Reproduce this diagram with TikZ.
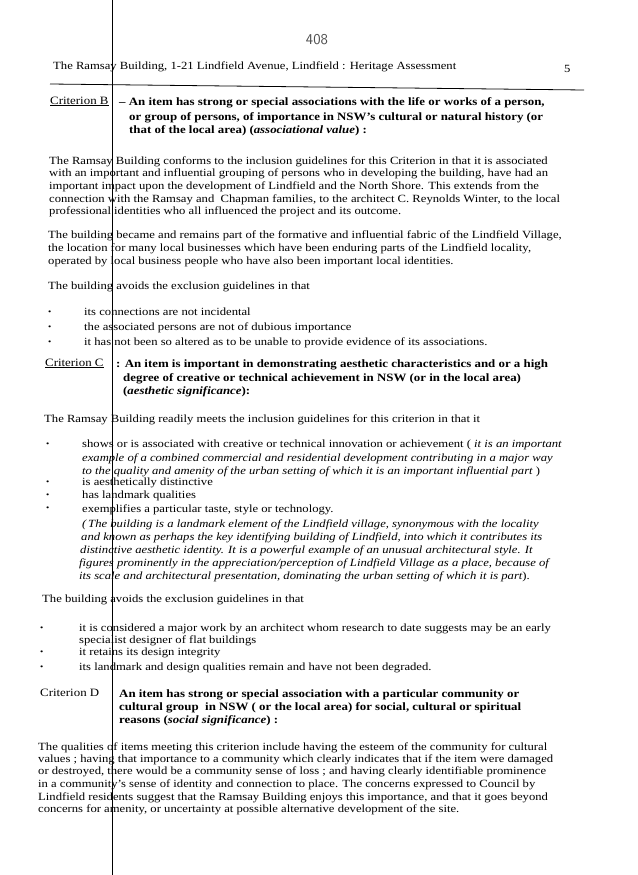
\documentclass[tikz,border=0pt]{standalone}
\usepackage{fontspec}
\setmainfont[FakeStretch=1.15]{Liberation Serif}
\begin{document}
\begin{tikzpicture}[x=1pt,y=-1pt,
  t/.style={anchor=base west,inner sep=0pt,font=\fontsize{11}{13}\selectfont},
  ti/.style={t,font=\fontsize{11}{13}\selectfont\itshape},
  h/.style={anchor=base west,inner sep=0pt,font=\fontsize{11.2}{13}\selectfont\bfseries},
  bu/.style={anchor=base west,inner sep=0pt,font=\fontsize{8}{10}\selectfont}]
\useasboundingbox (0,0) rectangle (637,875);
\fill[white] (0,0) rectangle (637,875);
\node[anchor=base,inner sep=0pt,font=\fontsize{15}{18}\selectfont\sffamily\color{black!70}] (pg) at (317,45) {408};
\node[t] (hd) at (53,70) {The Ramsay Building, 1-21 Lindfield Avenue, Lindfield : Heritage Assessment};
\node[t] (n5) at (564,73) {5};
\coordinate (r1) at (50,84); \coordinate (r2) at (584,90);
\draw[line width=0.8pt] (r1) -- (r2);
% Criterion B
\node[t,font=\fontsize{11.2}{13}\selectfont] (cb) at (50,104) {\underline{Criterion B}};
\node[h] (cb1) at (119,105) {– An item has strong or special associations with the life or works of a person,};
\node[h] (cb2) at (129,120) {or group of persons, of importance in NSW’s cultural or natural history (or};
\node[h] (cb3) at (129,133) {that of the local area) (\textit{associational value}) :};
\node[t] (p1) at (49,164) {The Ramsay Building conforms to the inclusion guidelines for this Criterion in that it is associated};
\node[t] (p2) at (49,176) {with an important and influential grouping of persons who in developing the building, have had an};
\node[t] (p3) at (49,189) {important impact upon the development of Lindfield and the North Shore. This extends from the};
\node[t] (p4) at (49,202) {connection with the Ramsay and\ \ Chapman families, to the architect C. Reynolds Winter, to the local};
\node[t] (p5) at (49,214) {professional identities who all influenced the project and its outcome.};
\node[t] (q1) at (48,238) {The building became and remains part of the formative and influential fabric of the Lindfield Village,};
\node[t] (q2) at (48,251) {the location for many local businesses which have been enduring parts of the Lindfield locality,};
\node[t] (q3) at (48,264) {operated by local business people who have also been important local identities.};
\node[t] (r0) at (48,289) {The building avoids the exclusion guidelines in that};
\node[bu] (b1) at (48,314) {•}; \node[t] (b1t) at (84,315) {its connections are not incidental};
\node[bu] (b2) at (48,329) {•}; \node[t] (b2t) at (84,330) {the associated persons are not of dubious importance};
\node[bu] (b3) at (48,344) {•}; \node[t] (b3t) at (84,345) {it has not been so altered as to be unable to provide evidence of its associations.};
% Criterion C
\node[t,font=\fontsize{11.2}{13}\selectfont] (cc) at (45,366) {\underline{Criterion C}};
\node[h] (cc1) at (116,367) {: An item is important in demonstrating aesthetic characteristics and or a high};
\node[h] (cc2) at (123,381) {degree of creative or technical achievement in NSW (or in the local area)};
\node[h] (cc3) at (123,394) {(\textit{aesthetic significance}):};
\node[t] (s0) at (44,422) {The Ramsay Building readily meets the inclusion guidelines for this criterion in that it};
\node[bu] (c1) at (46,446) {•};
\node[t] (c1a) at (82,447) {shows or is associated with creative or technical innovation or achievement ( \textit{it is an important}};
\node[ti] (c1b) at (82,461) {example of a combined commercial and residential development contributing in a major way};
\node[ti] (c1c) at (82,474) {to the quality and amenity of the urban setting of which it is an important influential part \upshape)};
\node[bu] (c2) at (46,484) {•}; \node[t] (c2t) at (82,485) {is aesthetically distinctive};
\node[bu] (c3) at (46,497) {•}; \node[t] (c3t) at (82,498) {has landmark qualities};
\node[bu] (c4) at (46,510) {•}; \node[t] (c4t) at (82,512) {exemplifies a particular taste, style or technology.};
\node[ti] (c4a) at (82,527) {(\,The building is a landmark element of the Lindfield village, synonymous with the locality};
\node[ti] (c4b) at (81,540) {and known as perhaps the key identifying building of Lindfield, into which it contributes its};
\node[ti] (c4c) at (80,553) {distinctive aesthetic identity. It is a powerful example of an unusual architectural style. It};
\node[ti] (c4d) at (79,566) {figures prominently in the appreciation/perception of Lindfield Village as a place, because of};
\node[ti] (c4e) at (79,579) {its scale and architectural presentation, dominating the urban setting of which it is part\upshape).};
\node[t] (u0) at (42,602) {The building avoids the exclusion guidelines in that};
\node[bu] (d1) at (40,630) {•}; \node[t] (d1t) at (79,631) {it is considered a major work by an architect whom research to date suggests may be an early};
\node[t] (d1b) at (79,643) {specialist designer of flat buildings};
\node[bu] (d2) at (40,654) {•}; \node[t] (d2t) at (79,655) {it retains its design integrity};
\node[bu] (d3) at (40,669) {•}; \node[t] (d3t) at (79,670) {its landmark and design qualities remain and have not been degraded.};
% Criterion D
\node[t,font=\fontsize{11.2}{13}\selectfont] (cd) at (40,696) {Criterion D};
\node[h] (cd1) at (119,697) {An item has strong or special association with a particular community or};
\node[h] (cd2) at (119,710) {cultural group\ \ in NSW ( or the local area) for social, cultural or spiritual};
\node[h] (cd3) at (119,723) {reasons (\textit{social significance}) :};
\node[t] (v1) at (38,750) {The qualities of items meeting this criterion include having the esteem of the community for cultural};
\node[t] (v2) at (38,762) {values ; having that importance to a community which clearly indicates that if the item were damaged};
\node[t] (v3) at (38,774) {or destroyed, there would be a community sense of loss ; and having clearly identifiable prominence};
\node[t] (v4) at (38,787) {in a community’s sense of identity and connection to place. The concerns expressed to Council by};
\node[t] (v5) at (38,800) {Lindfield residents suggest that the Ramsay Building enjoys this importance, and that it goes beyond};
\node[t] (v6) at (38,812) {concerns for amenity, or uncertainty at possible alternative development of the site.};
% scan line
\coordinate (l1) at (112,0); \coordinate (l2) at (112,875);
\draw[line width=1pt] (l1) -- (l2);
\end{tikzpicture}
\end{document}
